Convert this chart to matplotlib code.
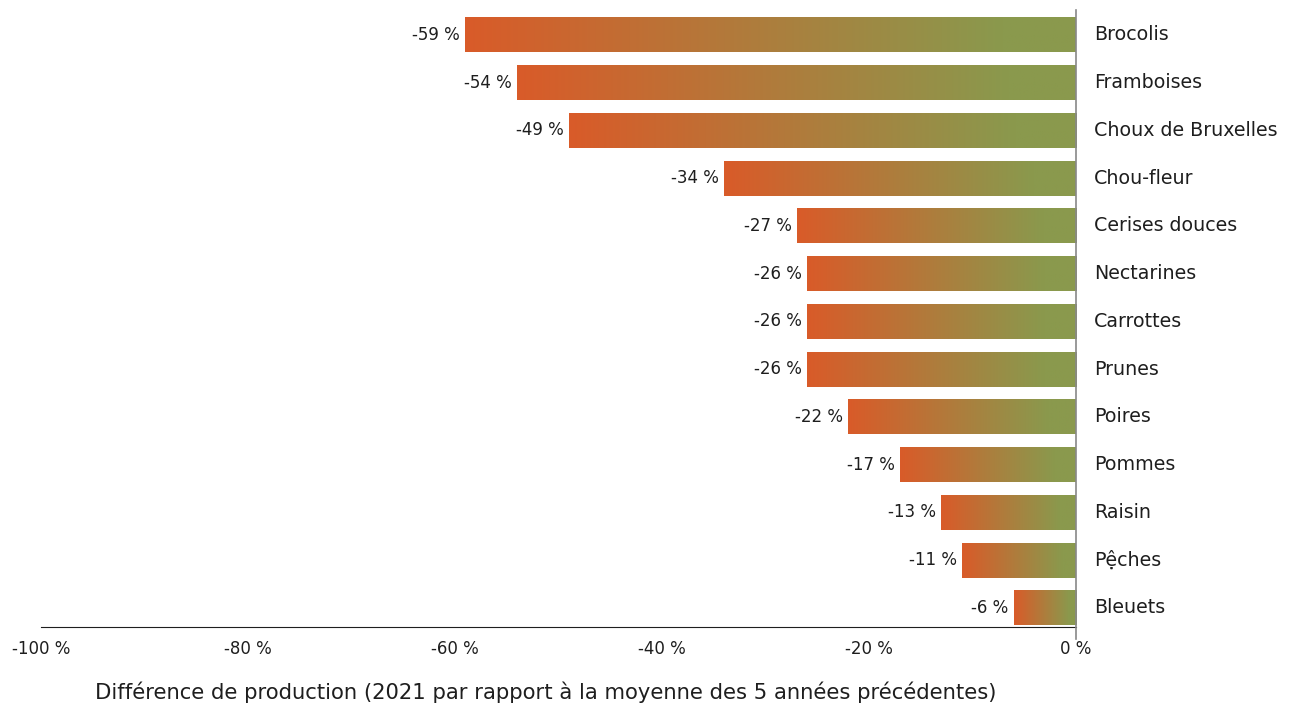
import matplotlib

matplotlib.use("Agg")
import matplotlib.pyplot as plt
import numpy as np
from matplotlib.colors import LinearSegmentedColormap

plt.rcParams["font.family"] = ["DejaVu Sans"]

categories = ["Brocolis", "Framboises", "Choux de Bruxelles", "Chou-fleur", "Cerises douces",
              "Nectarines", "Carrottes", "Prunes", "Poires", "Pommes", "Raisin", "Pệches", "Bleuets"]
values = [-59, -54, -49, -34, -27, -26, -26, -26, -22, -17, -13, -11, -6]
xticks = [-100, -80, -60, -40, -20, 0]

ORANGE = "#d95b29"
OLIVE = "#8a994d"
TXT = "#1e1e1e"
cmap = LinearSegmentedColormap.from_list("grad", [(0, ORANGE), (0.88, OLIVE), (1, OLIVE)])

fig = plt.figure(figsize=(12.9, 7.04), dpi=100)
ax = fig.add_axes([41 / 1290, 1 - 627 / 704, (1076 - 41) / 1290, (627 - 10) / 704])

y = np.arange(len(categories))
bars = ax.barh(y, values, height=0.73, color="none", edgecolor="none")
grad = np.linspace(0, 1, 256).reshape(1, -1)
for b, v in zip(bars, values):
    x0, y0 = b.get_x(), b.get_y()
    w, h = b.get_width(), b.get_height()
    xl, xr = min(x0, x0 + w), max(x0, x0 + w)
    im = ax.imshow(grad, cmap=cmap, aspect="auto", extent=(xl, xr, y0 + h, y0), zorder=2)
    im.set_clip_path(b)
    ax.text(xl - 0.5, y0 + h / 2, f"{v} %", ha="right", va="center", fontsize=12, color=TXT)

ax.set_xlim(-100, 0)
ax.set_ylim(12.4, -0.52)
ax.set_xticks(xticks)
ax.set_xticklabels([f"{t} %" for t in xticks], fontsize=12, color=TXT)
ax.tick_params(axis="x", length=0, pad=9)
ax.set_yticks([])
for s in ["top", "right", "left"]:
    ax.spines[s].set_visible(False)
ax.spines["bottom"].set_color(TXT)
ax.axvline(0, ymin=-0.02, ymax=1, color="#888888", linewidth=1.2, clip_on=False, zorder=3)

for yi, c in zip(y, categories):
    ax.text(1.75, yi, c, ha="left", va="center", fontsize=13.7, color=TXT)

ax.set_xlabel("Différence de production (2021 par rapport à la moyenne des 5 années précédentes)",
              fontsize=15.2, color=TXT)
ax.xaxis.set_label_coords(0.488, -0.088)

fig.savefig("out.png", dpi=100)
